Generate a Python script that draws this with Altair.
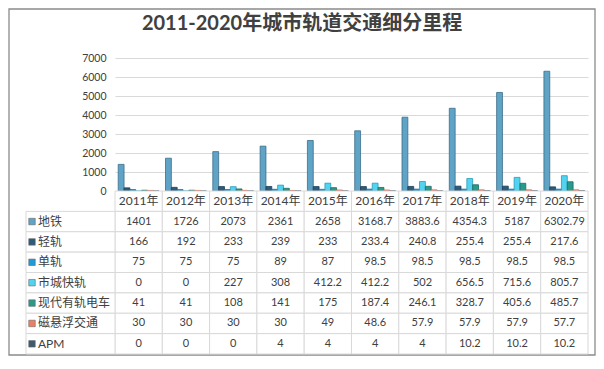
import altair as alt
import pandas as pd

# ---- data ----
years = ["2011年", "2012年", "2013年", "2014年", "2015年",
         "2016年", "2017年", "2018年", "2019年", "2020年"]
series = ["地铁", "轻轨", "单轨", "市城快轨", "现代有轨电车", "磁悬浮交通", "APM"]

subway = [1401, 1726, 2073, 2361, 2658, 3168.7, 3883.6, 4354.3, 5187, 6302.79]
light_rail = [166, 192, 233, 239, 233, 233.4, 240.8, 255.4, 255.4, 217.6]
monorail = [75, 75, 75, 89, 87, 98.5, 98.5, 98.5, 98.5, 98.5]
city_express = [0, 0, 227, 308, 412.2, 412.2, 502, 656.5, 715.6, 805.7]
tram = [41, 41, 108, 141, 175, 187.4, 246.1, 328.7, 405.6, 485.7]
maglev = [30, 30, 30, 30, 49, 48.6, 57.9, 57.9, 57.9, 57.7]
apm = [0, 0, 0, 4, 4, 4, 4, 10.2, 10.2, 10.2]

series_values = [subway, light_rail, monorail, city_express, tram, maglev, apm]

fill_colors = ["#5fa3c6", "#2d5b7b", "#1e9bd8", "#52d3f2", "#2a9a8b", "#ee8062", "#3e5a6c"]
stroke_colors = ["#3b6d89", "#1e3f56", "#15709f", "#2a9bb8", "#1c6c61", "#c45c42", "#2a3e4b"]

title_text = "2011-2020年城市轨道交通细分里程"

# ---- tables built from the arrays ----
records = []
for name, vals in zip(series, series_values):
    for yr, v in zip(years, vals):
        records.append({"series": name, "row": name, "year": yr, "value": v, "label": f"{v:g}"})
df = pd.DataFrame(records)

header_df = pd.DataFrame({"year": years, "row": ["hdr"] * len(years), "label": years})
cells_df = pd.concat([header_df, df[["year", "row", "label"]]], ignore_index=True)
legend_df = pd.DataFrame({"row": series})
row_domain = ["hdr"] + series

FONT = "Lato, Noto Sans CJK SC, sans-serif"
CJK = "Noto Sans CJK SC, sans-serif"
TXT = "#404040"
GRID = "#d9d9d9"

W, H = 473, 133
GH = 163

color_scale = alt.Scale(domain=series, range=fill_colors)
stroke_scale = alt.Scale(domain=series, range=stroke_colors)

# ---- bar chart ----
bars = alt.Chart(df).mark_bar(strokeWidth=0.8).encode(
    x=alt.X("year:N", sort=years, scale=alt.Scale(paddingInner=0, paddingOuter=0), axis=None),
    xOffset=alt.XOffset("series:N", sort=series,
                        scale=alt.Scale(domain=series, paddingInner=0, paddingOuter=0.55)),
    y=alt.Y("value:Q", scale=alt.Scale(domain=[0, 7000], nice=False),
            axis=alt.Axis(values=list(range(0, 7001, 1000)), format="d", title=None,
                          domain=False, ticks=False, labelPadding=9, grid=True,
                          gridColor=GRID, gridWidth=1, labelFont=FONT, labelFontSize=10.5,
                          labelColor=TXT)),
    color=alt.Color("series:N", scale=color_scale, legend=None),
    stroke=alt.Stroke("series:N", scale=stroke_scale, legend=None),
)

frame = alt.Chart(pd.DataFrame({"k": [0]})).mark_rect(
    fillOpacity=0, stroke="#8a8a8a", strokeWidth=1.3
).encode(
    x=alt.value(-106), x2=alt.value(W + 7),
    y=alt.value(-49), y2=alt.value(H + GH + 1),
)

top = alt.layer(bars, frame).properties(width=W, height=H)

# ---- data table ----
x_g = alt.X("year:N", sort=years, scale=alt.Scale(domain=years, paddingInner=0, paddingOuter=0), axis=None)
y_g = alt.Y("row:N", sort=row_domain, scale=alt.Scale(domain=row_domain, paddingInner=0, paddingOuter=0), axis=None)

cell_rect = alt.Chart(cells_df).mark_rect(fill="white", stroke=GRID, strokeWidth=1).encode(x=x_g, y=y_g)
hdr_text = alt.Chart(header_df).mark_text(font=FONT, fontSize=12, color=TXT).encode(
    x=x_g, y=y_g, text="label:N")
val_text = alt.Chart(df).mark_text(font=FONT, fontSize=11, color=TXT).encode(
    x=x_g, y=y_g, text="label:N")

lab_rect = alt.Chart(legend_df).mark_rect(fill="white", stroke=GRID, strokeWidth=1).encode(
    x=alt.value(-89), x2=alt.value(0), y=y_g)
lab_sq = alt.Chart(legend_df).mark_square(size=42, stroke="#666666", strokeWidth=0.6, opacity=1).encode(
    x=alt.value(-83), y=y_g,
    color=alt.Color("row:N", scale=color_scale, legend=None))
lab_text = alt.Chart(legend_df).mark_text(font=FONT, fontSize=12, color=TXT, align="left").encode(
    x=alt.value(-77), y=y_g, text="row:N")

table = alt.layer(cell_rect, hdr_text, val_text, lab_rect, lab_sq, lab_text).properties(width=W, height=GH)

chart = alt.vconcat(top, table, spacing=0, bounds="flush").properties(
    title=alt.Title(title_text, anchor="middle", offset=-26, fontSize=20, font=FONT,
                    fontWeight="bold", color=TXT),
    padding=0,
).configure_view(strokeWidth=0)

chart.save("out.html", embed_options={"renderer": "svg", "actions": False})
